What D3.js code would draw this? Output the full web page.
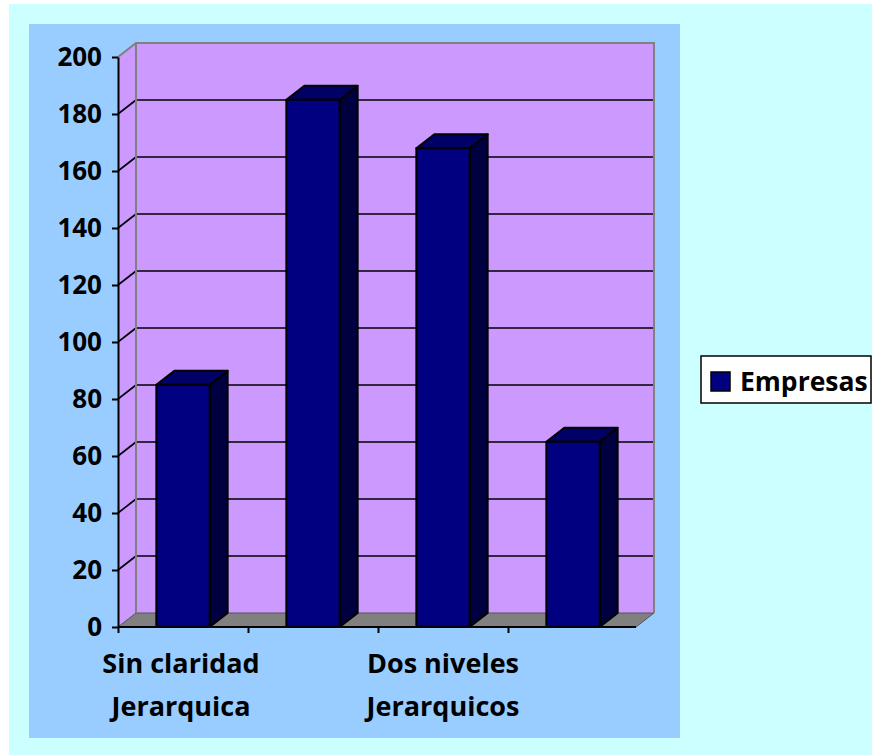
<!DOCTYPE html>
<html>
<head>
<meta charset="utf-8">
<script src="https://cdn.jsdelivr.net/npm/d3@7"></script>
<style>
  body { margin: 0; background: #fff; }
  svg { display: block; }
  text { font-family: 'Open Sans', sans-serif; font-weight: bold; fill: #000; }
</style>
</head>
<body>
<svg id="chart" width="872" height="755"></svg>
<script>
// Data
const categoryLabels = [['Sin claridad', 'Jerarquica'], [], ['Dos niveles', 'Jerarquicos'], []];
const empresas = [85, 185, 168, 65];
const yTicks = [0, 20, 40, 60, 80, 100, 120, 140, 160, 180, 200];
const seriesName = 'Empresas';

const svg = d3.select('#chart');
const depth = { x: 18, y: -14 };
const colors = {
  page: '#CCFFFF', plot: '#99CCFF', wall: '#CC99FF', floor: '#808080',
  edge: '#808080', front: '#000080', top: '#000066', side: '#000040'
};

const yPosition = d3.scaleLinear().domain([0, 200]).range([627, 57]);
const xBand = d3.scaleBand()
  .domain(d3.range(empresas.length))
  .range([118, 638])
  .paddingInner(0.59)
  .paddingOuter(0.295);
const xTick = d3.scaleLinear().domain([0, empresas.length]).range([118, 638]);

const x0 = 118, x1 = 638, y0 = yPosition(0), yTop = yPosition(200);
const pts = p => p.map(d => d.join(',')).join(' ');

// Backgrounds
svg.append('rect')
  .attr('x', 9).attr('y', 4).attr('width', 863).attr('height', 751)
  .attr('fill', colors.page);
svg.append('rect')
  .attr('x', 29).attr('y', 24).attr('width', 651).attr('height', 714)
  .attr('fill', colors.plot);

// Walls
const walls = svg.append('g');
walls.append('polygon')
  .attr('points', pts([[x0, yTop], [x0 + depth.x, yTop + depth.y],
    [x0 + depth.x, y0 + depth.y], [x0, y0]]))
  .attr('fill', colors.wall);
walls.append('rect')
  .attr('x', x0 + depth.x).attr('y', yTop + depth.y)
  .attr('width', x1 - x0 - 2).attr('height', y0 - yTop)
  .attr('fill', colors.wall);

// Floor
walls.append('polygon')
  .attr('points', pts([[x0, y0], [x0 + depth.x, y0 + depth.y],
    [x1 - 2 + depth.x, y0 + depth.y], [x1 - 2, y0]]))
  .attr('fill', colors.floor)
  .attr('stroke', '#555')
  .attr('stroke-width', 1);

// Gridlines on back wall and side wall
const grid = svg.append('g')
  .attr('stroke', '#000')
  .attr('stroke-width', 1.6)
  .attr('fill', 'none');
grid.selectAll('line.back')
  .data(yTicks.filter(d => d > 0 && d < 200))
  .enter()
  .append('line')
    .attr('class', 'back')
    .attr('x1', x0 + depth.x).attr('x2', x1 - 2 + depth.x)
    .attr('y1', d => yPosition(d) + depth.y)
    .attr('y2', d => yPosition(d) + depth.y);
grid.selectAll('line.side')
  .data(yTicks.filter(d => d > 0 && d < 200))
  .enter()
  .append('line')
    .attr('class', 'side')
    .attr('x1', x0).attr('x2', x0 + depth.x)
    .attr('y1', d => yPosition(d))
    .attr('y2', d => yPosition(d) + depth.y);

// Wall edges
svg.append('path')
  .attr('d', `M${x0},${yTop} L${x0 + depth.x},${yTop + depth.y} ` +
    `L${x1 - 2 + depth.x},${yTop + depth.y} L${x1 - 2 + depth.x},${y0 + depth.y} ` +
    `M${x0 + depth.x},${yTop + depth.y} L${x0 + depth.x},${y0 + depth.y}`)
  .attr('fill', 'none')
  .attr('stroke', colors.edge)
  .attr('stroke-width', 2);

// Bars
const bars = svg.append('g')
  .selectAll('g')
  .data(empresas)
  .enter()
  .append('g')
    .attr('stroke', '#000')
    .attr('stroke-width', 2)
    .attr('stroke-linejoin', 'round');

bars.append('polygon')
  .attr('fill', colors.side)
  .attr('points', (d, i) => {
    const r = xBand(i) + xBand.bandwidth(), t = yPosition(d);
    return pts([[r, t], [r + depth.x, t + depth.y], [r + depth.x, y0 + depth.y], [r, y0]]);
  });
bars.append('polygon')
  .attr('fill', colors.top)
  .attr('points', (d, i) => {
    const l = xBand(i), r = l + xBand.bandwidth(), t = yPosition(d);
    return pts([[l, t], [l + depth.x, t + depth.y], [r + depth.x, t + depth.y], [r, t]]);
  });
bars.append('rect')
  .attr('fill', colors.front)
  .attr('x', (d, i) => xBand(i))
  .attr('y', d => yPosition(d))
  .attr('width', xBand.bandwidth())
  .attr('height', d => y0 - yPosition(d));

// Y-Axis
const yAxis = svg.append('g')
  .attr('transform', `translate(${x0},0)`)
  .call(d3.axisLeft(yPosition).tickValues(yTicks).tickSize(6).tickPadding(10).tickSizeOuter(0));
yAxis.selectAll('path, line').attr('stroke', '#000').attr('stroke-width', 2);
yAxis.selectAll('text')
  .style('font-size', '26px')
  .attr('fill', '#000');

// X-Axis
const xAxis = svg.append('g')
  .attr('transform', `translate(0,${y0})`)
  .call(d3.axisBottom(xTick).tickValues(d3.range(empresas.length)).tickSize(6)
    .tickSizeOuter(0).tickFormat(''));
xAxis.select('path').attr('d', `M${x0},0H${x1 - 2}`);
xAxis.selectAll('path, line').attr('stroke', '#000').attr('stroke-width', 2);

// Category labels
svg.append('g')
  .selectAll('text')
  .data(categoryLabels)
  .enter()
  .append('text')
    .attr('text-anchor', 'middle')
    .style('font-size', '27px')
    .each(function(d, i) {
      d3.select(this).selectAll('tspan')
        .data(d)
        .enter()
        .append('tspan')
          .attr('x', xBand(i) + xBand.bandwidth() / 2 - (i === 0 ? 2 : 0))
          .attr('y', (t, j) => 673 + j * 43)
          .text(t => t);
    });

// Legend
const legend = svg.append('g').attr('transform', 'translate(701,356)');
legend.append('rect')
  .attr('width', 170).attr('height', 47)
  .attr('fill', '#fff').attr('stroke', '#000').attr('stroke-width', 1.5);
legend.append('rect')
  .attr('x', 10).attr('y', 16).attr('width', 19).attr('height', 19)
  .attr('fill', colors.front).attr('stroke', '#000').attr('stroke-width', 1.5);
legend.append('text')
  .attr('x', 39).attr('y', 35)
  .style('font-size', '26.5px')
  .text(seriesName);
</script>
</body>
</html>
